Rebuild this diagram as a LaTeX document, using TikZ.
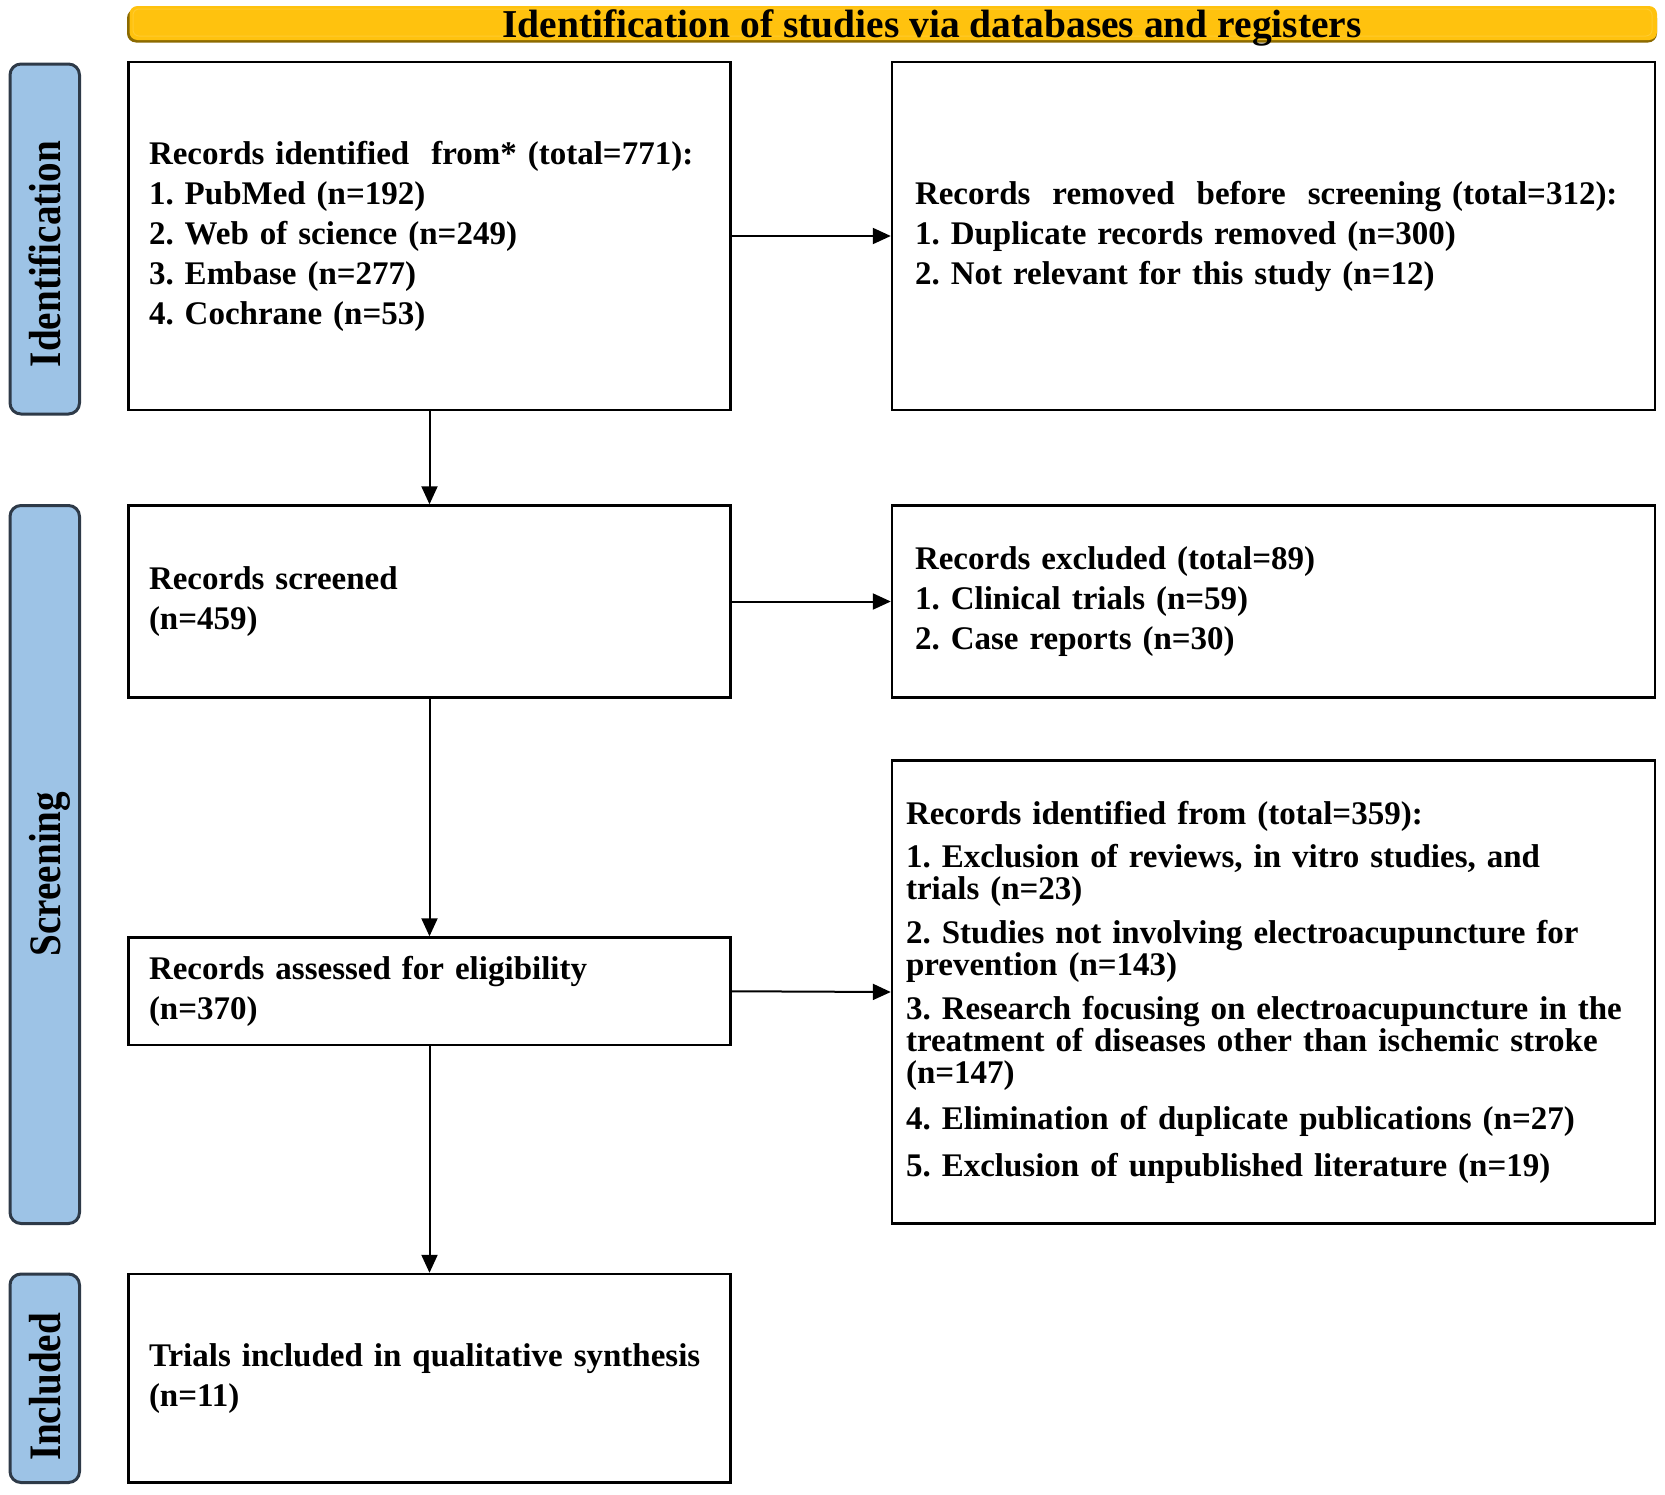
\documentclass[tikz,border=0pt]{standalone}
\usepackage{fontspec}
\setmainfont{Liberation Serif}
\usetikzlibrary{arrows.meta}
\definecolor{labelblue}{HTML}{9DC3E6}
\definecolor{labelborder}{HTML}{2E3A48}
\definecolor{goldmain}{HTML}{FFC20E}
\definecolor{goldlight}{HTML}{FFCB2E}
\definecolor{golddark}{HTML}{8C6A00}
\frenchspacing
\begin{document}
\begin{tikzpicture}[x=1pt,y=-1pt,
  box/.style={draw=black, line width=2.4pt, rectangle, align=left, inner ysep=0pt,
    font=\fontsize{33}{40}\selectfont\bfseries},
  leftbox/.style={box, minimum width=602pt, text width=561pt, inner xsep=20.5pt},
  rightbox/.style={box, minimum width=763pt, text width=717pt, inner xsep=23pt},
  sidebox/.style={draw=labelborder, line width=3pt, fill=labelblue, rounded corners=11pt,
    minimum width=69.5pt, inner sep=0pt},
  sidetext/.style={rotate=90, anchor=base, inner sep=0pt,
    font=\fontsize{45}{45}\selectfont\bfseries},
  flow/.style={line width=2pt, -{Triangle[length=18pt,width=16pt]}}
]
\useasboundingbox (0,0) rectangle (1665,1494);

% banner
\fill[golddark, rounded corners=9pt] (127,9) rectangle (1657,42.5);
\fill[goldmain, rounded corners=8pt] (129.5,6) rectangle (1657,40);
\draw[goldlight, line width=1pt, rounded corners=6pt] (133,9) rectangle (1652,36);
\node[inner sep=0pt, anchor=base, font=\fontsize{39.5}{39.5}\selectfont\bfseries] (banner) at (932,37)
  {Identification of studies via databases and registers};

% side labels
\node[sidebox, minimum height=350pt] (sideA) at (44.75,239) {};
\node[sidetext] (sideAt) at (60,254) {\scalebox{0.87}[1]{Identification}};
\node[sidebox, minimum height=718pt] (sideB) at (44.75,864.5) {};
\node[sidetext] (sideBt) at (60,874) {\scalebox{0.87}[1]{Screening}};
\node[sidebox, minimum height=208.5pt] (sideC) at (44.75,1378.25) {};
\node[sidetext] (sideCt) at (60,1387) {\scalebox{0.87}[1]{Included}};

% boxes
\node[leftbox, minimum height=348.5pt] (A) at (429.5,236)
  {Records identified \ from* (total=771):\\
   1. PubMed (n=192)\\
   2. Web of science (n=249)\\
   3. Embase (n=277)\\
   4. Cochrane (n=53)};
\node[rightbox, minimum height=348.5pt] (B) at (1273.5,236)
  {Records\ \ removed\ \ before\ \ screening (total=312):\\
   1. Duplicate records removed (n=300)\\
   2. Not relevant for this study (n=12)};
\node[leftbox, minimum height=192pt] (C) at (429.5,601.5)
  {Records screened\\(n=459)};
\node[rightbox, minimum height=192pt] (D) at (1273.5,601.5)
  {Records excluded (total=89)\\
   1. Clinical trials (n=59)\\
   2. Case reports (n=30)};
\node[leftbox, minimum height=107.5pt] (E) at (429.5,991.25)
  {Records assessed for eligibility\\(n=370)};
\node[box, minimum width=763pt, text width=735pt, inner xsep=14pt, minimum height=463pt,
      font=\fontsize{33}{32}\selectfont\bfseries] (F) at (1273.5,992)
  {Records identified from (total=359):\\[11pt]
   1. Exclusion of reviews, in vitro studies, and\\
   trials (n=23)\\[12pt]
   2. Studies not involving electroacupuncture for\\
   prevention (n=143)\\[12pt]
   3. Research focusing on electroacupuncture in the\\
   treatment of diseases other than ischemic stroke\\
   (n=147)\\[14pt]
   4. Elimination of duplicate publications (n=27)\\[15pt]
   5. Exclusion of unpublished literature (n=19)};
\node[leftbox, minimum height=208.5pt] (G) at (429.5,1378.25)
  {Trials included in qualitative synthesis\\(n=11)};

% connectors
\draw[flow] (A.south) -- (C.north);
\draw[flow] (A.east) -- (B.west);
\draw[flow] (C.south) -- (E.north);
\draw[flow] (C.east) -- (D.west);
\draw[flow] (E.east) -- (F.west);
\draw[flow] (E.south) -- (G.north);
\end{tikzpicture}
\end{document}
